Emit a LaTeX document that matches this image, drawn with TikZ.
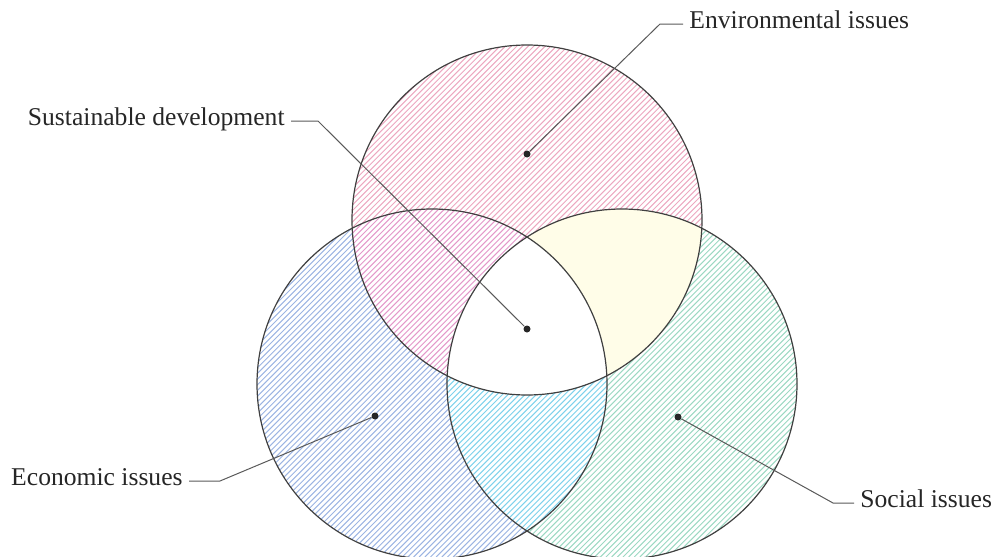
\documentclass[tikz,border=0pt]{standalone}
\usepackage{fontspec}
\setmainfont{Liberation Serif}
\definecolor{envhatch}{RGB}{236,168,192}
\definecolor{ecohatch}{RGB}{156,180,226}
\definecolor{sochatch}{RGB}{156,216,194}
\definecolor{envecohatch}{RGB}{228,152,202}
\definecolor{ecosochatch}{RGB}{126,210,236}
\definecolor{envsocfill}{RGB}{255,253,232}
\newcommand{\hatchregion}[1]{%
  \foreach \hx in {-260,-254.34,...,800}{\draw[#1,line width=0.5pt] (\hx,557) -- ++(557,-557);}}
\tikzset{
venncircle/.style={
  draw=black!75,
  line width=0.6pt
},
issuedot/.style={
  circle,
  fill=black!85,
  inner sep=0pt,
  minimum size=3.5pt
},
issuelabel/.style={
  font=\fontsize{12.8}{15}\selectfont,
  inner sep=3pt,
  text=black!85
},
leader/.style={
  draw=black!65,
  line width=0.5pt
}
}

\begin{document}
\begin{tikzpicture}[x=0.5pt,y=-0.5pt]
\useasboundingbox (0,0) rectangle (1003,557);

% circle centres
\coordinate (envc) at (527,220);
\coordinate (ecoc) at (432,384);
\coordinate (socc) at (622,384);
\def\vennr{175}

% the three hatched circles
\begin{scope}
\clip (envc) circle[radius=\vennr];
\hatchregion{envhatch}
\end{scope}
\begin{scope}
\clip (ecoc) circle[radius=\vennr];
\hatchregion{ecohatch}
\end{scope}
\begin{scope}
\clip (socc) circle[radius=\vennr];
\hatchregion{sochatch}
\end{scope}

% overlaps
\begin{scope}
\clip (envc) circle[radius=\vennr];
\clip (ecoc) circle[radius=\vennr];
\fill[white] (ecoc) circle[radius=\vennr];
\hatchregion{envecohatch}
\end{scope}
\begin{scope}
\clip (envc) circle[radius=\vennr];
\fill[envsocfill] (socc) circle[radius=\vennr];
\end{scope}
\begin{scope}
\clip (ecoc) circle[radius=\vennr];
\clip (socc) circle[radius=\vennr];
\fill[white] (socc) circle[radius=\vennr];
\hatchregion{ecosochatch}
\end{scope}
\begin{scope}
\clip (envc) circle[radius=\vennr];
\clip (ecoc) circle[radius=\vennr];
\fill[white] (socc) circle[radius=\vennr];
\end{scope}

\draw[venncircle] (envc) circle[radius=\vennr];
\draw[venncircle] (ecoc) circle[radius=\vennr];
\draw[venncircle] (socc) circle[radius=\vennr];

% dots and labels
\node[issuedot] (envdot) at (527,154) {};
\node[issuedot] (susdot) at (527,329) {};
\node[issuedot] (ecodot) at (375,416) {};
\node[issuedot] (socdot) at (678,417) {};

\node[issuelabel, anchor=mid west] (envlab) at (683,24) {Environmental issues};
\node[issuelabel, anchor=mid east] (suslab) at (291,121) {Sustainable development};
\node[issuelabel, anchor=mid east] (ecolab) at (189,481) {Economic issues};
\node[issuelabel, anchor=mid west] (soclab) at (854,503) {Social issues};

\draw[leader] (envdot) -- ([xshift=-11.5pt]envlab.mid west) -- (envlab.mid west);
\draw[leader] (susdot) -- ([xshift=13.5pt]suslab.mid east) -- (suslab.mid east);
\draw[leader] (ecodot) -- ([xshift=15.5pt]ecolab.mid east) -- (ecolab.mid east);
\draw[leader] (socdot) -- ([xshift=-10.5pt]soclab.mid west) -- (soclab.mid west);

\end{tikzpicture}
\end{document}
